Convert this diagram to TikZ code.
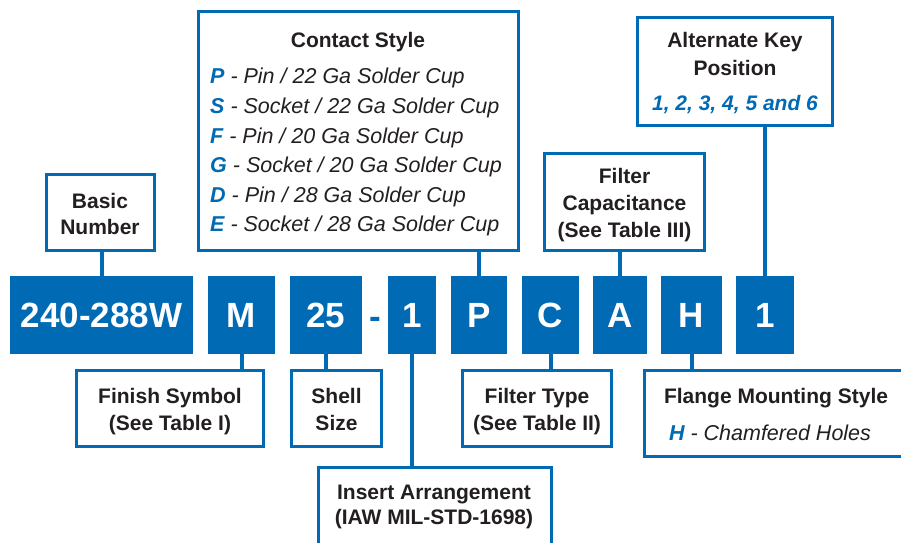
\documentclass[tikz,border=0pt]{standalone}
\usepackage{fontspec}
\setmainfont{Liberation Sans}
\definecolor{cblue}{RGB}{0,106,180}
\definecolor{ctext}{RGB}{35,31,32}
\newcommand\ckey[1]{\textcolor{cblue}{\bfseries #1}}
\tikzset{
  codebox/.style={fill=cblue, draw=none, text=white, font=\fontsize{35}{40}\selectfont\bfseries, inner sep=0pt, minimum height=78pt},
  labelbox/.style={draw=cblue, line width=3pt, fill=white, inner sep=0pt},
  lbl/.style={text=ctext, font=\fontsize{21}{26}\selectfont\bfseries, inner sep=0pt, anchor=base},
  itl/.style={text=ctext, font=\fontsize{21.5}{26}\selectfont\itshape, inner sep=0pt, anchor=base west},
  conn/.style={draw=cblue, line width=4pt},
}
\begin{document}
\begin{tikzpicture}[x=1pt,y=-1pt]
\useasboundingbox (0,0) rectangle (901,542);
\clip (0,0) rectangle (901,542);
\fill[white] (0,0) rectangle (901,542);

% code boxes
\node[codebox, minimum width=183pt] (b1) at (101.5,315) {240-288W};
\node[codebox, minimum width=67pt] (bm) at (241.5,315) {M};
\node[codebox, minimum width=72pt] (b25) at (326,315) {25};
\node[text=cblue, font=\fontsize{35}{40}\selectfont\bfseries, inner sep=0pt, anchor=base] (dash) at (375.5,328) {-};
\node[codebox, minimum width=48pt] (bone) at (412,315) {1};
\node[codebox, minimum width=56pt] (bp) at (479,315) {P};
\node[codebox, minimum width=57pt] (bc) at (550.5,315) {C};
\node[codebox, minimum width=54pt] (ba) at (620,315) {A};
\node[codebox, minimum width=61pt] (bh) at (691.5,315) {H};
\node[codebox, minimum width=58pt] (bk) at (765,315) {1};

% label boxes
\node[labelbox, minimum width=108pt, minimum height=76pt] (basic) at (100.5,212.5) {};
\node[labelbox, minimum width=320pt, minimum height=239pt] (contact) at (358.5,131) {};
\node[labelbox, minimum width=160pt, minimum height=97pt] (filtcap) at (624.5,202) {};
\node[labelbox, minimum width=195pt, minimum height=108pt] (altkey) at (735,71.5) {};
\node[labelbox, minimum width=187pt, minimum height=76pt] (finish) at (170,408.5) {};
\node[labelbox, minimum width=90pt, minimum height=76pt] (shell) at (336.5,408.5) {};
\node[labelbox, minimum width=149pt, minimum height=76pt] (filttype) at (537,408.5) {};
\node[labelbox, minimum width=233pt, minimum height=132.5pt] (insert) at (435,533.75) {};
\node[labelbox, minimum width=315.5pt, minimum height=86pt] (flange) at (802.25,413.5) {};

% connectors
\draw[conn] (b1.north) -- (b1.north |- basic.south);
\draw[conn] (bp.north) -- (bp.north |- contact.south);
\draw[conn] (ba.north) -- (ba.north |- filtcap.south);
\draw[conn] (bk.north) -- (bk.north |- altkey.south);
\draw[conn] (bm.south) -- (bm.south |- finish.north);
\draw[conn] (b25.south) -- (b25.south |- shell.north);
\draw[conn] (bone.south) -- (bone.south |- insert.north);
\draw[conn] (bc.south) -- (bc.south |- filttype.north);
\draw[conn] (bh.south) -- (bh.south |- flange.north);

% texts
\node[lbl] (basic1) at (100,208) {Basic};
\node[lbl] (basic2) at (100,234) {Number};

\node[lbl] (ct0) at (358,47) {Contact Style};
\node[itl] (ct1) at (210,83) {\ckey{P} - Pin / 22 Ga Solder Cup};
\node[itl] (ct2) at (210,113) {\ckey{S} - Socket / 22 Ga Solder Cup};
\node[itl] (ct3) at (210,143) {\ckey{F} - Pin / 20 Ga Solder Cup};
\node[itl] (ct4) at (210,172) {\ckey{G} - Socket / 20 Ga Solder Cup};
\node[itl] (ct5) at (210,202) {\ckey{D} - Pin / 28 Ga Solder Cup};
\node[itl] (ct6) at (210,231) {\ckey{E} - Socket / 28 Ga Solder Cup};

\node[lbl] (fc1) at (624.5,183) {Filter};
\node[lbl] (fc2) at (624.5,210) {Capacitance};
\node[lbl] (fc3) at (624.5,237) {(See Table III)};

\node[lbl] (ak1) at (735,47) {Alternate Key};
\node[lbl] (ak2) at (735,75) {Position};
\node[lbl, text=cblue, font=\fontsize{21}{26}\selectfont\bfseries\itshape] (ak3) at (735,110) {1, 2, 3, 4, 5 and 6};

\node[lbl] (fs1) at (170,403) {Finish Symbol};
\node[lbl] (fs2) at (170,430) {(See Table I)};

\node[lbl] (ss1) at (336.5,403) {Shell};
\node[lbl] (ss2) at (336.5,430) {Size};

\node[lbl] (ft1) at (537,403) {Filter Type};
\node[lbl] (ft2) at (537,430) {(See Table II)};

\node[lbl] (ia1) at (434,499) {Insert Arrangement};
\node[lbl] (ia2) at (434,524) {(IAW MIL-STD-1698)};

\node[lbl] (fm1) at (776,403) {Flange Mounting Style};
\node[itl, anchor=base] (fm2) at (770,440) {\ckey{H} - Chamfered Holes};
\end{tikzpicture}
\end{document}
